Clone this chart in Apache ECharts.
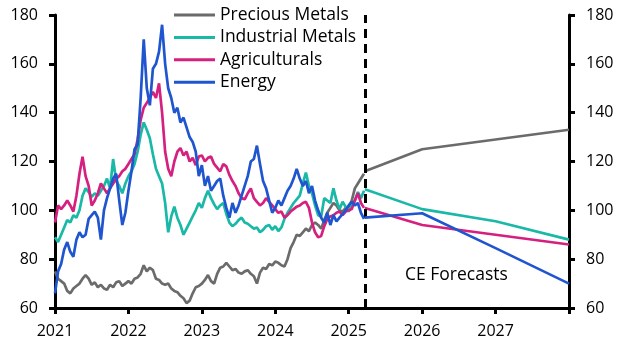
<!DOCTYPE html>
<html><head><meta charset="utf-8">
<script src="https://cdn.jsdelivr.net/npm/echarts@6/dist/echarts.min.js"></script>
<style>html,body{margin:0;padding:0;background:#fff}#c{width:632px;height:357px}</style>
</head><body><div id="c"></div>
<script>
// History: semi-monthly observations starting Jan 2021
const histStart = 2021;
const histStepsPerYear = 24;
const precious = [75,72,71,70,67,66,68,69,70,72,73.5,72,69.5,70.5,68.5,69.5,68,67.5,69.5,68.5,70.5,71,69,70,
  71,70,72,72.5,74,77.5,75,76.5,75.5,72,71.5,70,69.5,70,68,67,66.5,65,64,62,63,66,68.5,69,
  70,71.5,73.5,71,70,74,76.5,77,78.5,77,75.5,76,74.5,74,75,75.5,74,73,70,74.5,76.5,76,78,77.5,
  79,78.5,77.5,77,80,84.5,87,90,89.5,91,92.5,91.5,94,95,94,92.5,96,99,101,103,102,100,99.5,101,
  101.5,104,109,111,113,115];
const industrial = [89,87,90,93,96,95,98,97,100,106,109,107.5,105.5,107,106,108,110,113,109,121,112,110,107,111,
  114,116,119,124,131,136,133,129.5,123,117,114,111,103,91,97.5,101.5,97,94,90,92.5,95,97.5,100,103,
  101,105,108,105,102.5,100.5,102,103,98.5,95,93.5,94.5,96,97,95,94.5,93.5,92.5,93,91,92,93.5,94,92,
  93.5,91.5,93,96.5,99,101,103,104.5,106,111,115.5,110,107,102,98,97.5,105,104,103,109,104,100.5,103.5,101.5,
  99.5,102,104,107.5,105,108];
const agri = [95,102,100.5,102,104,102,99.5,106,115,122,114,110,102,104,107,111,109,107,109,111,113,114,116,117,
  119,121,123,129,137,142,144,146,148.5,146,152,140,124,117,114,120,124,125.5,122.5,124,120,121.5,118.5,122,
  122.5,120,121.5,122,119,117.5,116,119,118,114.5,112,110,107,105,104.5,107,109,105,103.5,102,103,105,103.5,102,
  100.5,99,99.5,97,98,99.5,100.5,101.5,102,103,103.5,101,95,91,89,89.5,93.5,96.5,97.5,98,99,99.5,98,99.5,
  100,100.5,104,107,103,101];
const energy = [66,75,78,84,87,83,81,88,91,89,90,96.5,98,99.5,97,88,100,105,109,113,115,104,94,99,
  108,116,125,127,146,170,150,143,158,160,165,176,160,150,146,140,142,136,138,134,130,128,124,114,
  118.5,110,114,108,110,112,113,106,101,97,103,99,102,106,110,114,120,121,126.5,119,112,109,104,99,
  101,104,102,105,108,110,113,117,113,110,112,107,110,104,100,97,95,99,94,98,95.5,97,98.5,100,
  102,103.5,102,103,99,96.5];
// CE forecasts
const fcYears = [2025.22, 2026, 2027, 2028];
const preciousFc = [116, 125, 129, 133];
const industrialFc = [108.6, 100.5, 95.5, 88];
const agriFc = [101, 94, 90, 86];
const energyFc = [97, 98.8, 84.5, 70];
const seriesNames = ['Precious Metals', 'Industrial Metals', 'Agriculturals', 'Energy'];
const colors = ['#6b6b6b', '#19b8a7', '#d5207f', '#1f56cf'];
const forecastStart = 2025.22;

const hist = [precious, industrial, agri, energy];
const fcs = [preciousFc, industrialFc, agriFc, energyFc];
const toHist = arr => arr.map((v, i) => [histStart + i / histStepsPerYear, v]);
const toFc = arr => arr.map((v, i) => [fcYears[i], v]);

const FONT = 'Open Sans';
const series = [];
hist.forEach((arr, k) => {
  series.push({name: seriesNames[k], type: 'line', data: toHist(arr), showSymbol: false, symbol: 'none',
    lineStyle: {color: colors[k], width: 2.7}, itemStyle: {color: colors[k]}, z: 2 + k});
});
fcs.forEach((arr, k) => {
  const s = {name: seriesNames[k], type: 'line', data: toFc(arr), showSymbol: false, symbol: 'none',
    lineStyle: {color: colors[k], width: 2.6}, itemStyle: {color: colors[k]}, z: 2 + k};
  if (k === 0) {
    s.markLine = {symbol: 'none', silent: true, label: {show: false},
      lineStyle: {color: '#000', width: 3, type: [9, 6]}, data: [{xAxis: forecastStart}], animation: false};
  }
  series.push(s);
});

const chart = echarts.init(document.getElementById('c'), null, {renderer: 'canvas'});
const yAxisCommon = {
  type: 'value', min: 60, max: 180, interval: 20,
  axisLine: {show: true, lineStyle: {color: '#000', width: 3}},
  axisTick: {show: true, length: 6, lineStyle: {color: '#000', width: 3}},
  splitLine: {show: false},
  axisLabel: {color: '#000', fontFamily: FONT, fontSize: 16, margin: 17}
};
chart.setOption({
  animation: false,
  backgroundColor: '#fff',
  grid: {left: 55, right: 63, top: 15, bottom: 49},
  legend: {
    orient: 'vertical', left: 174, top: 6, padding: 0, itemWidth: 41, itemHeight: 3, itemGap: 4.4,
    data: seriesNames.map(n => ({name: n, icon: 'rect'})),
    textStyle: {color: '#000', fontFamily: FONT, fontSize: 17.5, lineHeight: 18}
  },
  xAxis: {
    type: 'value', min: 2021, max: 2028, interval: 1,
    axisLine: {show: true, onZero: false, lineStyle: {color: '#000', width: 3}},
    axisTick: {show: true, length: 6, lineStyle: {color: '#000', width: 3}},
    splitLine: {show: false},
    axisLabel: {color: '#000', fontFamily: FONT, fontSize: 16, margin: 15,
      formatter: v => (v === 2028 ? '' : String(v))}
  },
  yAxis: [Object.assign({position: 'left'}, yAxisCommon), Object.assign({position: 'right'}, yAxisCommon)],
  graphic: [{type: 'text', left: 405, top: 266, style: {text: 'CE Forecasts', fill: '#000', font: '17.5px "Open Sans"'}}],
  series: series
});
</script></body></html>
